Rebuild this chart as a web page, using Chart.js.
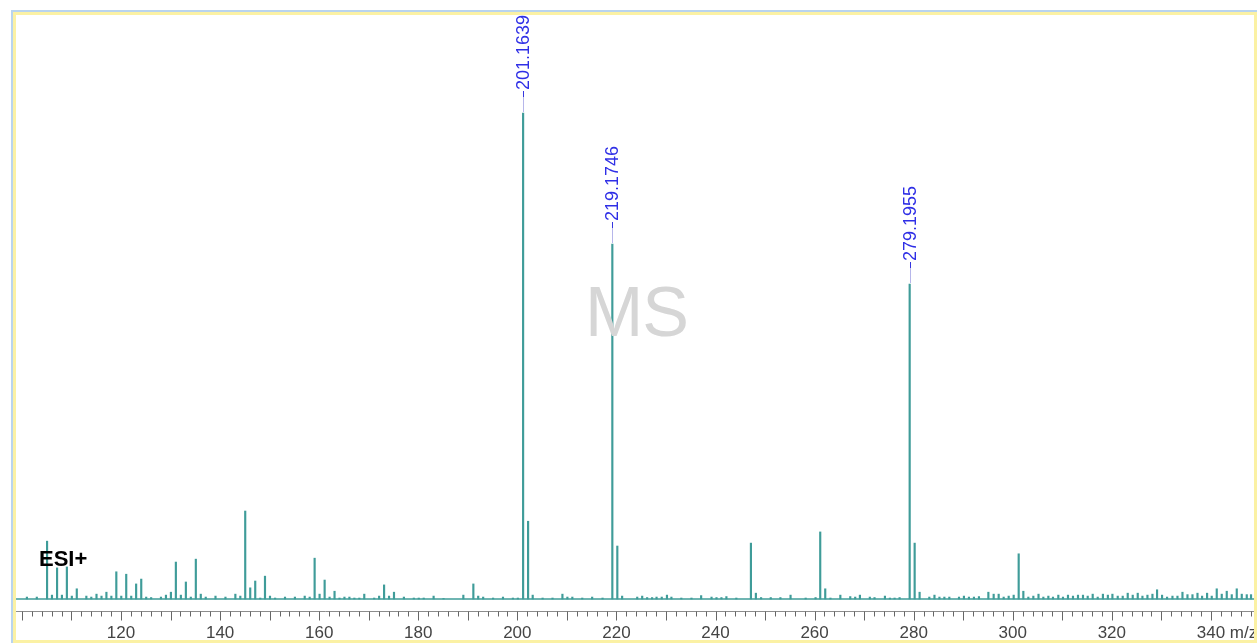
<!DOCTYPE html>
<html>
<head>
<meta charset="utf-8">
<title>ESI+ MS spectrum</title>
<script src="https://cdn.jsdelivr.net/npm/chart.js@4.4.0/dist/chart.umd.min.js"></script>
<style>
    body { margin: 0; background: #ffffff; font-family: 'Liberation Sans', Arial, sans-serif; }
    #frame-blue { position: absolute; left: 11px; top: 10px; width: 1246px; height: 633px;
        border-left: 2px solid #b9d4ee; border-top: 2px solid #b9d4ee; box-sizing: border-box; }
    #frame-yellow { position: absolute; left: 13px; top: 12px; width: 1244px; height: 631px;
        border: 3px solid #fbf1a4; box-sizing: border-box; }
    #chart-box { position: absolute; left: 16px; top: 15px; width: 1238px; height: 625px; }
    #mode-label { position: absolute; left: 39px; top: 546px; font-weight: bold; font-size: 22px; color: #000; }
    #watermark { position: absolute; left: 585px; top: 272px; font-size: 70px; color: #d6d6d6; letter-spacing: -1px; }
</style>
</head>
<body>
<div id="frame-blue"></div>
<div id="frame-yellow"></div>
<div id="chart-box"><canvas id="msChart"></canvas></div>
<div id="mode-label">ESI+</div>
<div id="watermark">MS</div>

<script>
// Peak list: m/z and relative intensity (% of base peak)
const peakMz = [
    101.0, 103.0, 105.07, 106.06, 107.09, 108.07, 109.07, 110.07, 111.07, 113.0,
    114.0, 115.05, 116.06, 117.05, 118.05, 119.05, 120.05, 121.05, 122.06, 123.05,
    124.08, 125.08, 126.08, 128.06, 129.07, 130.07, 131.07, 132.08, 133.09, 134.09,
    135.1, 136.1, 137.1, 139.07, 141.08, 143.08, 144.08, 145.07, 146.08, 147.09,
    148.1, 149.06, 150.07, 151.1, 153.1, 155.1, 157.08, 158.08, 159.08, 160.08,
    161.1, 162.1, 163.1, 164.1, 165.1, 166.1, 167.1, 168.1, 169.1, 171.1,
    172.1, 173.1, 174.1, 175.1, 177.1, 179.1, 180.1, 181.1, 183.1, 185.1,
    189.1, 191.12, 192.1, 193.1, 195.1, 197.1, 199.1, 200.1, 201.1639, 202.17,
    203.1, 205.1, 207.1, 209.1, 210.1, 211.1, 213.1, 215.1, 217.2, 219.1746,
    220.18, 221.15, 224.2, 225.2, 226.2, 227.2, 228.1, 229.15, 230.2, 231.1,
    233.1, 235.15, 237.1, 239.2, 240.2, 241.2, 242.2, 244.2, 247.15, 248.15,
    249.2, 251.15, 253.1, 255.15, 258.2, 260.2, 261.14, 262.15, 263.2, 265.2,
    267.2, 268.2, 269.15, 271.15, 272.1, 274.2, 275.2, 276.15, 277.16, 279.1955,
    280.2, 281.2, 283.16, 284.2, 285.2, 286.2, 287.2, 289.15, 290.15, 291.16,
    292.17, 293.18, 295.08, 296.15, 297.16, 298.17, 299.18, 300.19, 301.2, 302.14,
    303.15, 304.16, 305.2, 306.18, 307.19, 308.12, 309.2, 310.14, 311.15, 312.16,
    313.17, 314.18, 315.13, 316.14, 317.15, 318.2, 319.2, 320.12, 321.19, 322.2,
    323.21, 324.22, 325.23, 326.18, 327.19, 328.2, 329.13, 330.14, 331.15, 332.24,
    333.25, 334.26, 335.27, 336.28, 337.29, 338.22, 339.23, 340.17, 341.18, 342.19,
    343.2, 344.21, 345.22, 346.23, 347.24, 348.1
];
const peakIntensity = [
    0.4, 0.4, 11.9, 0.8, 6.4, 0.8, 6.6, 0.6, 2.1, 0.6,
    0.4, 1.0, 0.6, 1.4, 0.6, 5.6, 0.6, 5.1, 0.6, 3.1,
    4.1, 0.4, 0.3, 0.4, 0.8, 1.4, 7.6, 0.8, 3.5, 0.4,
    8.2, 1.0, 0.4, 0.6, 0.4, 1.0, 0.6, 18.1, 2.3, 3.7,
    0.2, 4.7, 0.6, 0.2, 0.4, 0.4, 0.6, 0.4, 8.4, 1.0,
    3.9, 0.4, 1.6, 0.2, 0.4, 0.4, 0.2, 0.2, 1.0, 0.2,
    0.6, 2.9, 0.6, 1.4, 0.4, 0.2, 0.2, 0.2, 0.6, 0.1,
    0.8, 3.1, 0.6, 0.4, 0.2, 0.4, 0.2, 0.2, 100, 16.0,
    0.8, 0.2, 0.2, 1.0, 0.4, 0.4, 0.2, 0.4, 0.2, 73.0,
    10.9, 0.6, 0.4, 0.6, 0.3, 0.3, 0.4, 0.4, 0.8, 0.4,
    0.2, 0.2, 0.7, 0.4, 0.3, 0.3, 0.5, 0.2, 11.5, 1.2,
    0.3, 0.3, 0.3, 0.8, 0.2, 0.3, 13.8, 2.1, 0.2, 0.8,
    0.5, 0.4, 0.8, 0.4, 0.3, 0.6, 0.2, 0.2, 0.3, 64.8,
    11.5, 1.4, 0.4, 0.8, 0.4, 0.4, 0.4, 0.4, 0.6, 0.4,
    0.4, 0.5, 1.4, 1.0, 1.0, 0.4, 0.6, 0.8, 9.3, 1.6,
    0.4, 0.6, 1.0, 0.4, 0.6, 0.4, 0.8, 0.4, 0.8, 0.6,
    0.8, 0.8, 0.6, 1.0, 0.4, 1.0, 0.8, 1.0, 0.6, 0.6,
    1.2, 0.8, 1.2, 0.6, 0.8, 1.0, 1.9, 0.8, 0.4, 0.6,
    0.6, 1.4, 0.9, 0.9, 1.2, 0.6, 1.2, 0.6, 2.1, 1.0,
    1.6, 0.9, 2.1, 1.0, 0.9, 0.9
];

// Peaks that carry an m/z annotation
const labelMz = [201.1639, 219.1746, 279.1955];
const labelText = ['201.1639', '219.1746', '279.1955'];

// Axis range
const xMin = 98.8;
const xMax = 348.7;

const peakColor = '#3f9c99';
const tickFont = "'Liberation Sans', Arial, sans-serif";

// Draws the rotated m/z labels above the annotated peaks
const peakLabelPlugin = {
    id: 'peakLabels',
    afterDatasetsDraw(chart) {
        const ctx = chart.ctx;
        const xs = chart.scales.x;
        const ys = chart.scales.y;
        ctx.save();
        labelMz.forEach((mz, i) => {
            const idx = peakMz.indexOf(mz);
            const px = Math.round(xs.getPixelForValue(mz)) + 0.5;
            const py = Math.round(ys.getPixelForValue(peakIntensity[idx]));
            ctx.lineWidth = 1;
            ctx.strokeStyle = '#b6b6ea';
            ctx.beginPath();
            ctx.moveTo(px, py - 1);
            ctx.lineTo(px, py - 16);
            ctx.stroke();
            ctx.strokeStyle = '#3535e0';
            ctx.beginPath();
            ctx.moveTo(px, py - 16);
            ctx.lineTo(px, py - 22);
            ctx.stroke();

            ctx.save();
            ctx.translate(px, py - 23);
            ctx.rotate(-Math.PI / 2);
            ctx.fillStyle = '#2f2fe6';
            ctx.font = '18px ' + tickFont;
            ctx.textAlign = 'left';
            ctx.textBaseline = 'middle';
            ctx.fillText(labelText[i], 0, 1);
            ctx.restore();
        });
        ctx.restore();
    }
};

// Minor (every 2) and major (every 10) tick marks, plus the m/z unit
const axisTicksPlugin = {
    id: 'axisTicks',
    afterDraw(chart) {
        const ctx = chart.ctx;
        const xs = chart.scales.x;
        const top = Math.round(chart.chartArea.bottom) + 0.5;
        ctx.save();
        ctx.strokeStyle = '#666666';
        ctx.lineWidth = 1;
        for (let v = Math.ceil(xs.min / 2) * 2; v <= xs.max; v += 2) {
            const px = Math.round(xs.getPixelForValue(v)) + 0.5;
            const len = (v % 10 === 0) ? 9 : 5;
            ctx.beginPath();
            ctx.moveTo(px, top);
            ctx.lineTo(px, top + len);
            ctx.stroke();
        }
        // unit after the last labelled tick
        ctx.font = '17px ' + tickFont;
        ctx.fillStyle = '#444444';
        ctx.textBaseline = 'middle';
        ctx.textAlign = 'left';
        const lastPx = xs.getPixelForValue(340);
        const w = ctx.measureText('340').width;
        ctx.fillText(' m/z', lastPx + w / 2, xs.top + 12 + 10);
        ctx.restore();
    }
};

const ctx = document.getElementById('msChart').getContext('2d');

new Chart(ctx, {
    type: 'bar',
    data: {
        datasets: [{
            type: 'bar',
            data: peakMz.map((mz, i) => ({ x: mz, y: peakIntensity[i] })),
            backgroundColor: peakColor,
            borderWidth: 0,
            barThickness: 1.5
        }, {
            type: 'line',
            data: [{ x: xMin, y: 0 }, { x: xMax, y: 0 }],
            borderColor: peakColor,
            borderWidth: 1.5,
            pointRadius: 0,
            pointHoverRadius: 0
        }]
    },
    options: {
        animation: false,
        responsive: true,
        maintainAspectRatio: false,
        layout: { padding: 0, autoPadding: false },
        plugins: {
            legend: { display: false },
            tooltip: { enabled: false }
        },
        scales: {
            x: {
                type: 'linear',
                min: xMin,
                max: xMax,
                offset: false,
                grid: { display: true, drawOnChartArea: false, drawTicks: false },
                border: { display: true, color: '#8c8c8c', width: 1 },
                ticks: {
                    stepSize: 20,
                    includeBounds: false,
                    autoSkip: false,
                    maxRotation: 0,
                    padding: 12,
                    color: '#444444',
                    font: { family: tickFont, size: 17 },
                    callback: function(value) {
                        return (value % 20 === 0 && value >= 120) ? String(value) : '';
                    }
                },
                afterFit: function(scale) {
                    scale.height = 29;
                    scale.paddingLeft = 0;
                    scale.paddingRight = 0;
                }
            },
            y: {
                display: false,
                min: -2.47,
                max: 120.16
            }
        }
    },
    plugins: [peakLabelPlugin, axisTicksPlugin]
});
</script>
</body>
</html>
